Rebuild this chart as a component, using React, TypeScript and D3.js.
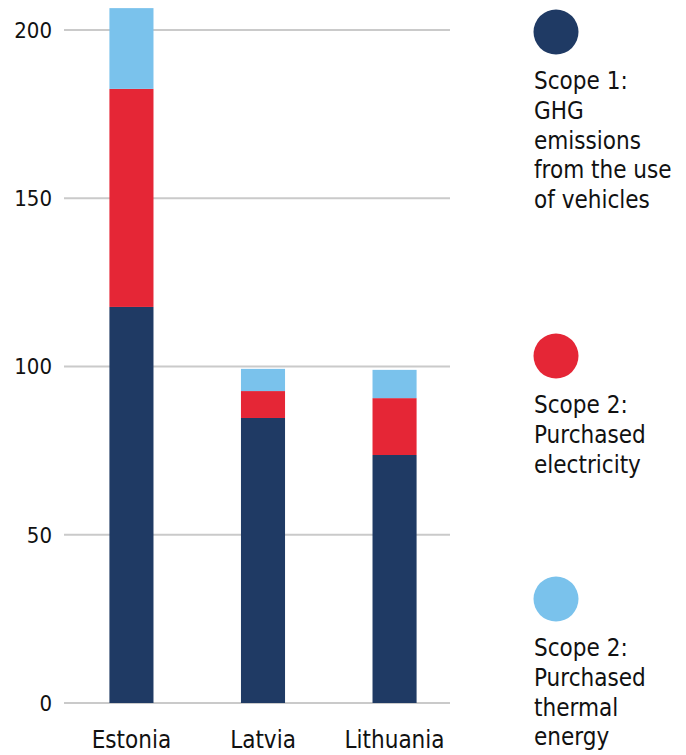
import React from "react";
import * as d3 from "d3";

const countries = ["Estonia", "Latvia", "Lithuania"];
const scope1Vehicles = [117.7, 84.7, 73.7];
const scope2Electricity = [64.8, 8.0, 16.9];
const scope2Thermal = [24.0, 6.6, 8.4];
const yTicks = [0, 50, 100, 150, 200];

const seriesKeys = ["vehicles", "electricity", "thermal"];
const seriesColors = ["#1f3a64", "#e52636", "#7ac2ec"];
const legendLabels = [
  ["Scope 1:", "GHG", "emissions", "from the use", "of vehicles"],
  ["Scope 2:", "Purchased", "electricity"],
  ["Scope 2:", "Purchased", "thermal", "energy"],
];

const W = 686;
const H = 755;
const FONT = "'Liberation Sans Narrow', 'DejaVu Sans Condensed', sans-serif";

const App = () => {
  const rows = countries.map((c, i) => ({
    country: c,
    vehicles: scope1Vehicles[i],
    electricity: scope2Electricity[i],
    thermal: scope2Thermal[i],
  }));
  const stacked = d3.stack<any>().keys(seriesKeys)(rows);

  const x = d3.scaleBand().domain(countries).range([66, 460]).paddingInner(0.665).paddingOuter(0.33);
  const y = d3.scaleLinear().domain([0, 200]).range([703, 30]);

  // legend positions (circle centre y for each entry)
  const legendY = [32, 356, 599];

  return (
    <svg width={W} height={H} style={{ position: "absolute", left: 0, top: 0 }} fontFamily={FONT}>
      {yTicks.map((t) => (
        <g key={t}>
          <line x1={64} x2={450} y1={y(t)} y2={y(t)} stroke="#cacaca" strokeWidth={2} />
          <text x={52} y={y(t)} dy="0.36em" textAnchor="end" fontSize={22} fill="#111">
            {t}
          </text>
        </g>
      ))}
      {stacked.map((s, si) => (
        <g key={s.key} fill={seriesColors[si]}>
          {s.map((d: any, i: number) => (
            <rect
              key={i}
              x={x(countries[i])}
              width={x.bandwidth()}
              y={y(d[1])}
              height={y(d[0]) - y(d[1])}
            />
          ))}
        </g>
      ))}
      {countries.map((c) => (
        <text key={c} x={(x(c) || 0) + x.bandwidth() / 2} y={748} textAnchor="middle" fontSize={24} fill="#111">
          {c}
        </text>
      ))}
      {legendLabels.map((lines, i) => (
        <g key={i}>
          <circle cx={556} cy={legendY[i]} r={22.5} fill={seriesColors[i]} />
          {lines.map((l, j) => (
            <text key={j} x={534} y={legendY[i] + 57 + j * 29.8} fontSize={24} fill="#111">
              {l}
            </text>
          ))}
        </g>
      ))}
    </svg>
  );
};

export default App;
